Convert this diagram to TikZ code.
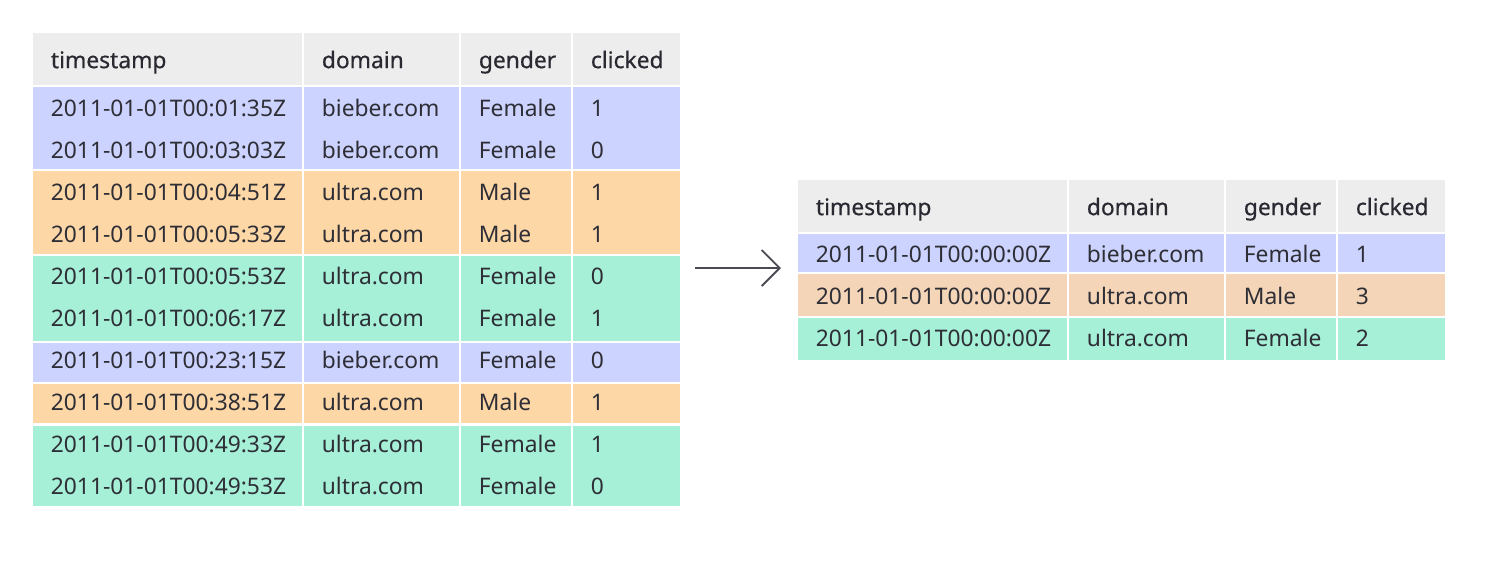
\documentclass[tikz,border=0pt]{standalone}
\usepackage{fontspec}
\setmainfont{Noto Sans}
\newfontfamily\headfont[FakeBold=0.5]{Noto Sans}
\usepackage{tikz}
\usetikzlibrary{arrows.meta}
\definecolor{headgray}{HTML}{EDEDED}
\definecolor{bieber}{HTML}{CCD3FE}
\definecolor{male}{HTML}{FED7A6}
\definecolor{malesum}{HTML}{F5D5B7}
\definecolor{female}{HTML}{A7F0D8}
\definecolor{ink}{HTML}{2E2E36}
\definecolor{arrowgray}{HTML}{4A4A55}
\tikzset{
  celltext/.style={anchor=west, inner sep=0pt, text height=8.1pt, text depth=0pt, text=ink, font=\fontsize{11.4}{13}\selectfont},
  headtext/.style={celltext, text=ink!90!black, font=\fontsize{11.4}{13}\selectfont\headfont},
  flow/.style={draw=arrowgray, line width=0.9pt, -{Straight Barb[length=9pt, width=18pt]}}
}
\newcommand{\band}[4]{%
  \fill[#4] (#1,#2) rectangle (#1+269,#3);
  \fill[#4] (#1+271,#2) rectangle (#1+426,#3);
  \fill[#4] (#1+428,#2) rectangle (#1+538,#3);
  \fill[#4] (#1+540,#2) rectangle (#1+647,#3);}
\newcommand{\cells}[8]{%
  \node[#1] (#2-t) at (#3+17.5,#4) {#5};
  \node[#1] (#2-d) at (#3+288.5,#4) {#6};
  \node[#1] (#2-g) at (#3+445.5,#4) {#7};
  \node[#1] (#2-c) at (#3+557.5,#4) {#8};}

\begin{document}
\begin{tikzpicture}[x=0.5pt, y=-0.5pt]
\useasboundingbox (0,0) rectangle (1506,569);
\band{33}{33}{85}{headgray}
\band{33}{87}{169}{bieber}
\band{33}{171}{254}{male}
\band{33}{256}{341}{female}
\band{33}{343}{382}{bieber}
\band{33}{384}{423}{male}
\band{33}{425.5}{506}{female}
\cells{headtext}{in0}{33}{60}{timestamp}{domain}{gender}{clicked}
\cells{celltext}{in1}{33}{108.3}{2011-01-01T00:01:35Z}{bieber.com}{Female}{1}
\cells{celltext}{in2}{33}{150.3}{2011-01-01T00:03:03Z}{bieber.com}{Female}{0}
\cells{celltext}{in3}{33}{192.3}{2011-01-01T00:04:51Z}{ultra.com}{Male}{1}
\cells{celltext}{in4}{33}{234.3}{2011-01-01T00:05:33Z}{ultra.com}{Male}{1}
\cells{celltext}{in5}{33}{276.3}{2011-01-01T00:05:53Z}{ultra.com}{Female}{0}
\cells{celltext}{in6}{33}{318.3}{2011-01-01T00:06:17Z}{ultra.com}{Female}{1}
\cells{celltext}{in7}{33}{360.3}{2011-01-01T00:23:15Z}{bieber.com}{Female}{0}
\cells{celltext}{in8}{33}{402.3}{2011-01-01T00:38:51Z}{ultra.com}{Male}{1}
\cells{celltext}{in9}{33}{444.3}{2011-01-01T00:49:33Z}{ultra.com}{Female}{1}
\cells{celltext}{in10}{33}{486.3}{2011-01-01T00:49:53Z}{ultra.com}{Female}{0}

\band{798}{180}{232}{headgray}
\band{798}{234}{272}{bieber}
\band{798}{274}{316}{malesum}
\band{798}{318}{360}{female}
\cells{headtext}{out0}{798}{207}{timestamp}{domain}{gender}{clicked}
\cells{celltext}{out1}{798}{254.5}{2011-01-01T00:00:00Z}{bieber.com}{Female}{1}
\cells{celltext}{out2}{798}{296.5}{2011-01-01T00:00:00Z}{ultra.com}{Male}{3}
\cells{celltext}{out3}{798}{338.5}{2011-01-01T00:00:00Z}{ultra.com}{Female}{2}

\coordinate (rollup) at (695,268);
\coordinate (result) at (781,268);
\draw[flow] (rollup) -- (result);
\end{tikzpicture}
\end{document}
